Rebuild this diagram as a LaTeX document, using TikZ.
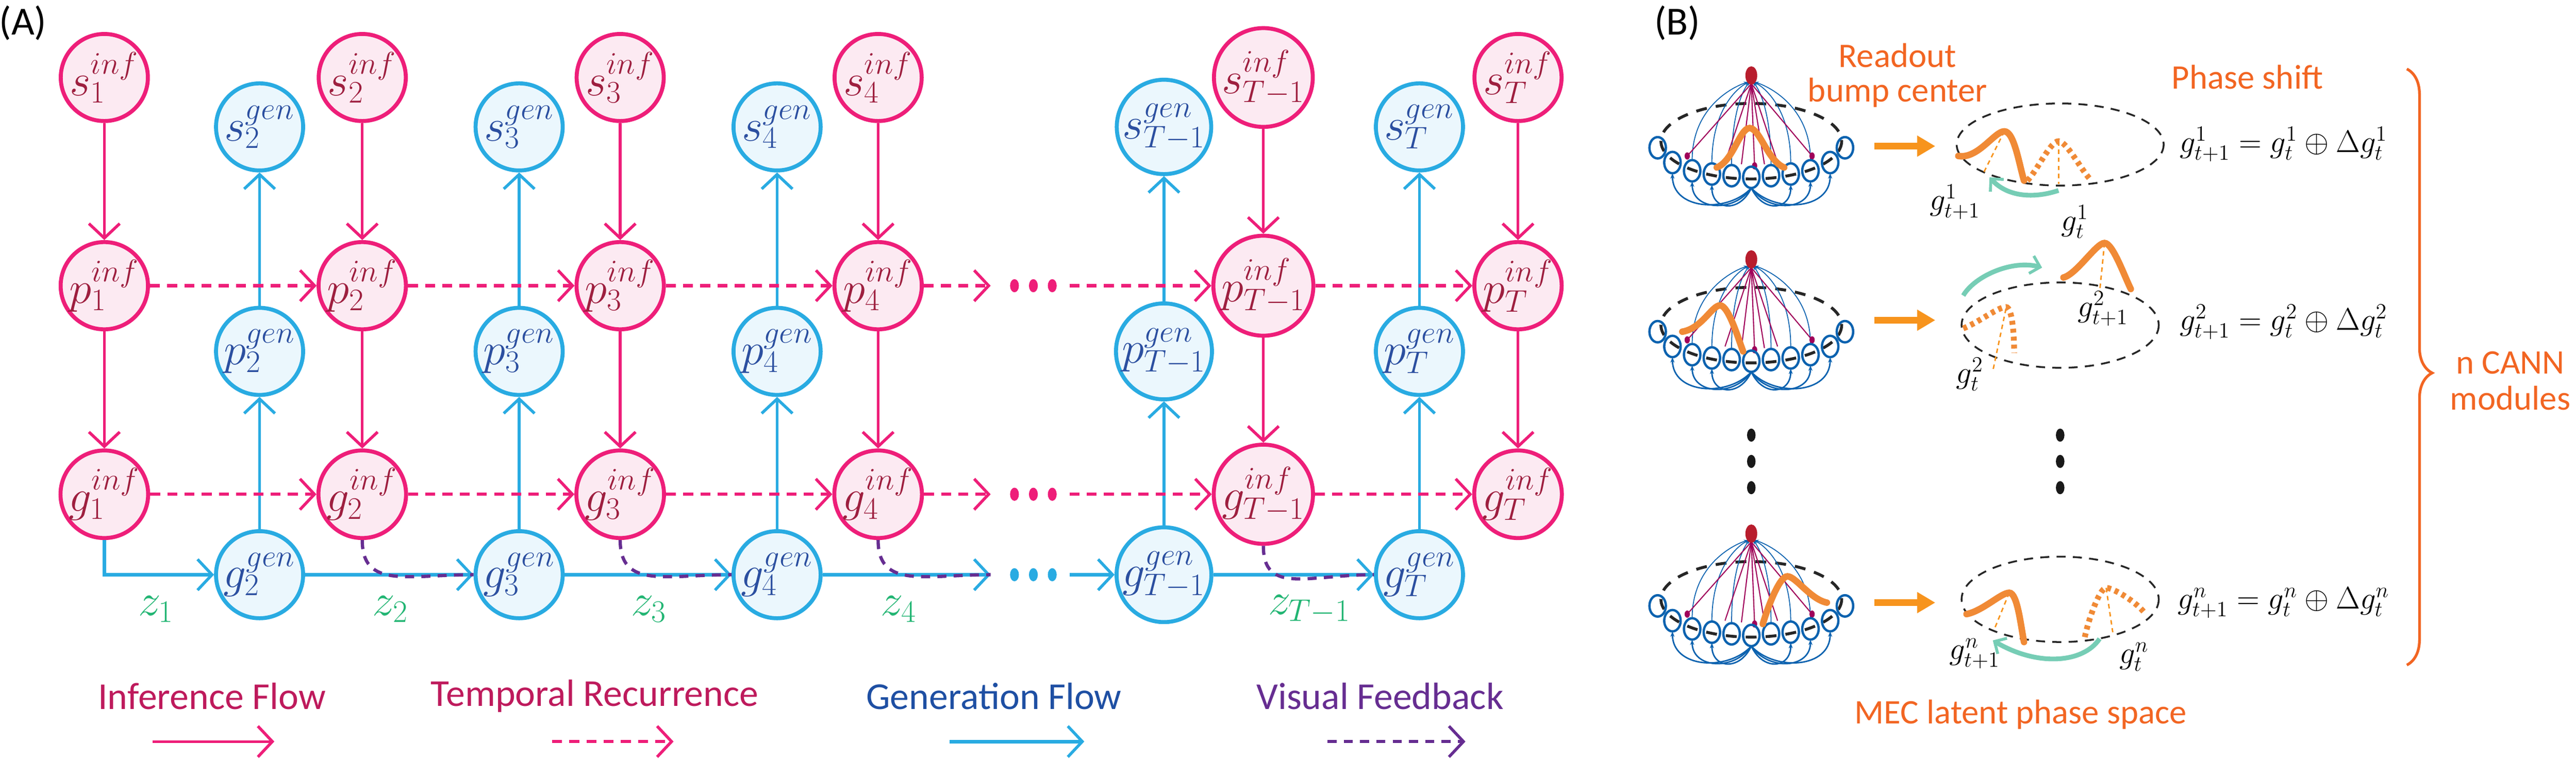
\documentclass[tikz,border=0pt]{standalone}
\usepackage{fontspec}
\setmainfont{Carlito}
\usetikzlibrary{arrows.meta,decorations.pathreplacing,calc}
\definecolor{pinkL}{HTML}{EE1E79}
\definecolor{pinkF}{HTML}{FCEAF2}
\definecolor{infT}{HTML}{9E1F3F}
\definecolor{blueL}{HTML}{29ABE2}
\definecolor{blueF}{HTML}{EBF7FD}
\definecolor{genT}{HTML}{2B4FA0}
\definecolor{zgreen}{HTML}{22B573}
\definecolor{vpurple}{HTML}{662D91}
\definecolor{legpink}{HTML}{BE1A5C}
\definecolor{legblue}{HTML}{1E4FA3}
\definecolor{orgA}{HTML}{F7941D}
\definecolor{orgB}{HTML}{F08A36}
\definecolor{orgT}{HTML}{F26522}
\definecolor{teal}{HTML}{76CDB5}
\definecolor{netB}{HTML}{0B62AF}
\definecolor{netM}{HTML}{A0005A}
\definecolor{netR}{HTML}{B81D2D}
\tikzset{
 inf/.style={circle,draw=pinkL,fill=pinkF,line width=2.2pt,minimum size=16.9mm,inner sep=0pt,text=infT,font=\fontsize{25}{30}\selectfont},
 gen/.style={circle,draw=blueL,fill=blueF,line width=2.2pt,minimum size=16.9mm,inner sep=0pt,text=genT,font=\fontsize{25}{30}\selectfont},
 tipP/.style={-{Straight Barb[length=8pt,width=17pt,line width=1.6pt]}},
 ia/.style={draw=pinkL,line width=1.5pt,tipP},
 ta/.style={draw=pinkL,line width=1.8pt,dash pattern=on 5.5pt off 4pt,tipP},
 ga/.style={draw=blueL,line width=1.5pt,tipP},
 gh/.style={draw=blueL,line width=2pt,tipP},
 vf/.style={draw=vpurple,line width=1.8pt,dash pattern=on 5pt off 4pt},
 zl/.style={text=zgreen,font=\fontsize{24}{28}\selectfont},
 leg/.style={font=\fontsize{21}{25}\selectfont},
 otxt/.style={text=orgT,font=\fontsize{19}{23}\selectfont,align=center},
 eq/.style={font=\fontsize{17}{20}\selectfont},
 lab/.style={font=\fontsize{18}{21}\selectfont,inner sep=0pt},
 ring/.style={draw=black!85,line width=1pt,dash pattern=on 5pt off 4pt},
 bump/.style={draw=orgB,line width=3.6pt,line cap=round},
 dbump/.style={draw=orgB,line width=3.2pt,dash pattern=on 2.2pt off 2.2pt},
 vl/.style={draw=orgA,line width=0.8pt,dash pattern=on 2.5pt off 2pt},
 tl/.style={draw=teal,line width=2.6pt,-{Straight Barb[length=5pt,width=10pt,line width=1.6pt]}},
 oa/.style={draw=orgA,line width=3.8pt,-{Triangle[length=10pt,width=11pt]}},
}
\newcommand{\cannnet}[2]{%
 \begin{scope}[shift={(#1,#2)}]
  \draw[draw=black!85,line width=1.6pt,dash pattern=on 6pt off 5pt] (0,0) ellipse [x radius=55,y radius=23];
  \foreach \cx/\cy in {-36/18,-24/20,-12/21,12/21,24/20,36/18}
    \draw[netB,line width=0.5pt,-{Stealth[length=2.5pt]}] (\cx,{\cy-6.5}) .. controls (\cx,-22) and ({\cx*0.25},-34) .. ({\cx*0.05},-36);
  \foreach \mx/\my in {-39/9,2/15,37/9,-16/13,16/13,-6/14,8/14}
    {\draw[netM,line width=0.6pt] (0,-35) -- (\mx,\my);}
  \foreach \mx/\my in {-39/9,2/15,37/9}
    {\fill[netM] (\mx,\my) ellipse [x radius=1.6,y radius=2.2];}
  \foreach \cx/\cy in {-57/4,-48/13,-36/18,-24/20,-12/21,0/22,12/21,24/20,36/18,48/13,57/4}
    \draw[netB,line width=1.3pt] (\cx,\cy) ellipse [x radius=5,y radius=6.5];
  \foreach \cx/\cy in {-48/13,-36/18,-24/20,24/20,36/18,48/13}
    \draw[netB,line width=0.8pt,-{Stealth[length=3pt]}] (0,28.5) .. controls ({\cx*0.3},44) and (\cx,42) .. (\cx,{\cy+6.5});
  \fill[netR] (0,-40) ellipse [x radius=3.6,y radius=5.6];
 \end{scope}}
\begin{document}
\begin{tikzpicture}[x=0.3187mm,y=-0.3187mm]
\path[use as bounding box] (0,0) rectangle (1568,462.8);
\node[font=\fontsize{22}{26}\selectfont] (A) at (14,14) {(A)};
\node[font=\fontsize{22}{26}\selectfont] (B) at (1021,14) {(B)};
% ---------- inference nodes
\foreach \n/\x/\s in {1/63.5/1,2/220.5/2,3/377.5/3,4/534.5/4,5/769/{T-1},6/924/T}{
  \node[inf] (s\n i) at (\x,47.2) {$s_{\s}^{inf}$};
  \node[inf] (p\n i) at (\x,174) {$p_{\s}^{inf}$};
  \node[inf] (g\n i) at (\x,301) {$g_{\s}^{inf}$};
  \draw[ia] (s\n i) -- (p\n i);
  \draw[ia] (p\n i) -- (g\n i);
}
% ---------- generation nodes
\foreach \n/\x/\s in {2/158/2,3/316/3,4/473/4,5/708.5/{T-1},6/864/T}{
  \node[gen] (s\n g) at (\x,77.3) {$s_{\s}^{gen}$};
  \node[gen] (p\n g) at (\x,214) {$p_{\s}^{gen}$};
  \node[gen] (g\n g) at (\x,350) {$g_{\s}^{gen}$};
  \draw[ga] (g\n g) -- (p\n g);
  \draw[ga] (p\n g) -- (s\n g);
}
% ---------- temporal recurrence
\coordinate (pd1) at (603,174); \coordinate (pd2) at (651,174);
\coordinate (gd1) at (603,301); \coordinate (gd2) at (651,301);
\coordinate (hd1) at (603,350); \coordinate (hd2) at (651,350);
\foreach \r in {p,g}{
  \draw[ta] (\r1i) -- (\r2i);
  \draw[ta] (\r2i) -- (\r3i);
  \draw[ta] (\r3i) -- (\r4i);
  \draw[ta] (\r4i) -- (\r d1);
  \draw[ta] (\r d2) -- (\r5i);
  \draw[ta] (\r5i) -- (\r6i);
}
\foreach \y in {174,301}{\foreach \x in {617.5,629,640.5}{\fill[pinkL] (\x,\y) ellipse [x radius=2.7,y radius=4];}}
\foreach \x in {617.5,629,640.5}{\fill[blueL] (\x,350) ellipse [x radius=2.7,y radius=4];}
% ---------- generation horizontal
\draw[gh] (g1i.south) |- (g2g);
\draw[gh] (g2g) -- (g3g);
\draw[gh] (g3g) -- (g4g);
\draw[gh] (g4g) -- (hd1);
\draw[gh] (hd2) -- (g5g);
\draw[gh] (g5g) -- (g6g);
% ---------- visual feedback
\draw[vf] (g2i.south) .. controls +(0,30) and +(-40,0) .. (g3g.west);
\draw[vf] (g3i.south) .. controls +(0,30) and +(-40,0) .. (g4g.west);
\draw[vf] (g4i.south) .. controls +(0,30) and +(-40,0) .. (hd1);
\draw[vf] (g5i.south) .. controls +(0,30) and +(-40,0) .. (g6g.west);
% ---------- z labels
\node[zl] (z1) at (95,371) {$z_1$};
\node[zl] (z2) at (237.6,371) {$z_2$};
\node[zl] (z3) at (395,371) {$z_3$};
\node[zl] (z4) at (547,371) {$z_4$};
\node[zl] (z5) at (797,371) {$z_{T-1}$};
% ---------- legend
\node[leg,text=legpink] (l1) at (129,424) {Inference Flow};
\node[leg,text=legpink] (l2) at (362,424) {Temporal Recurrence};
\node[leg,text=legblue] (l3) at (605,424) {Generation Flow};
\node[leg,text=vpurple] (l4) at (840,424) {Visual Feedback};
\coordinate (a1s) at (93,451.6); \coordinate (a1e) at (167,451.6);
\coordinate (a2s) at (336,451.6); \coordinate (a2e) at (410,451.6);
\coordinate (a3s) at (578,451.6); \coordinate (a3e) at (660,451.6);
\coordinate (a4s) at (808,451.6); \coordinate (a4e) at (892,451.6);
\draw[ia] (a1s) -- (a1e);
\draw[ta] (a2s) -- (a2e);
\draw[gh] (a3s) -- (a3e);
\draw[vf,-{Straight Barb[length=8pt,width=17pt,line width=1.6pt]}] (a4s) -- (a4e);
% ================= panel B
\cannnet{1066}{86}
\cannnet{1066}{198}
\cannnet{1066}{365}
% net bumps
\draw[bump] (1045,102) .. controls +(10,-4) and +(-6,0) .. (1065,78) .. controls +(6,0) and +(-10,-4) .. (1086,102);
\draw[bump] (1024,202) .. controls +(12,-2) and +(-5,0) .. (1047,186) .. controls +(5,0) and +(-3,-8) .. (1061,214);
\draw[bump] (1073,380) .. controls +(3,-10) and +(-5,0) .. (1088,351) .. controls +(5,0) and +(-10,-2) .. (1112,367);
% orange arrows
\coordinate (oa1s) at (1141,89); \coordinate (oa1e) at (1178,89);
\coordinate (oa2s) at (1141,195); \coordinate (oa2e) at (1178,195);
\coordinate (oa3s) at (1141,367); \coordinate (oa3e) at (1178,367);
\draw[oa] (oa1s) -- (oa1e);
\draw[oa] (oa2s) -- (oa2e);
\draw[oa] (oa3s) -- (oa3e);
% rings
\draw[ring] (1254,88) ellipse [x radius=63,y radius=25];
\draw[ring] (1254,198) ellipse [x radius=60,y radius=26];
\draw[ring] (1254,365) ellipse [x radius=60,y radius=26];
% ring bumps row 1
\draw[vl] (1220,80) -- (1207,106);
\draw[vl] (1253,86) -- (1253,112);
\draw[bump] (1192,95) .. controls +(12,2) and +(-6,0) .. (1220,80) .. controls +(6,0) and +(-3,-10) .. (1232,110);
\draw[dbump] (1234,110) .. controls +(6,-6) and +(-5,0) .. (1253,86) .. controls +(5,0) and +(-6,-6) .. (1273,110);
% row 2
\draw[vl] (1281,148) -- (1278,178);
\draw[vl] (1221,188) -- (1213,226);
\draw[bump] (1256,169) .. controls +(8,-2) and +(-5,0) .. (1281,148) .. controls +(5,0) and +(-4,-8) .. (1297,176);
\draw[dbump] (1195,200) .. controls +(10,-4) and +(-5,0) .. (1221,187) .. controls +(4,0) and +(0,-10) .. (1226,215);
% row 3
\draw[vl] (1223,361) -- (1214,383);
\draw[vl] (1282,358) -- (1286,385);
\draw[bump] (1197,374) .. controls +(10,-2) and +(-5,0) .. (1223,361) .. controls +(5,0) and +(-2,-10) .. (1232,391);
\draw[dbump] (1269,388) .. controls +(2,-10) and +(-4,0) .. (1282,358) .. controls +(4,0) and +(-6,-8) .. (1306,374);
% teal arrows
\coordinate (t1s) at (1253,116); \coordinate (t1e) at (1211,108);
\coordinate (t2s) at (1195,180); \coordinate (t2e) at (1243,163);
\coordinate (t3s) at (1278,389); \coordinate (t3e) at (1213,390);
\draw[tl] (t1s) .. controls (1238,121) and (1222,120) .. (t1e);
\draw[tl] (t2s) .. controls (1202,168) and (1225,158) .. (t2e);
\draw[tl] (t3s) .. controls (1268,404) and (1240,406) .. (t3e);
% labels
\node[lab] (l11) at (1190,123) {$g_{t+1}^{1}$};
\node[lab] (l12) at (1263,135) {$g_{t}^{1}$};
\node[lab] (l21) at (1280,188) {$g_{t+1}^{2}$};
\node[lab] (l22) at (1199,228) {$g_{t}^{2}$};
\node[lab] (l31) at (1202,398) {$g_{t+1}^{n}$};
\node[lab] (l32) at (1299,400) {$g_{t}^{n}$};
\node[eq] (e1) at (1390,88) {$g_{t+1}^{1}=g_t^{1}\oplus\Delta g_t^{1}$};
\node[eq] (e2) at (1390,196) {$g_{t+1}^{2}=g_t^{2}\oplus\Delta g_t^{2}$};
\node[eq] (e3) at (1390,367) {$g_{t+1}^{n}=g_t^{n}\oplus\Delta g_t^{n}$};
% vertical dots
\foreach \x in {1066,1254}{\foreach \y in {265,281,297}{\fill[black!90] (\x,\y) ellipse [x radius=2.6,y radius=4];}}
% texts
\node[otxt] (ro) at (1155,46) {Readout\\[-4pt]bump center};
\node[otxt] (ps) at (1368,47) {Phase shift};
\node[otxt] (nc) at (1528,232) {n CANN\\[-3pt]modules};
\node[otxt] (mec) at (1230,435) {MEC latent phase space};
\coordinate (bt) at (1465,42); \coordinate (bb) at (1465,405);
\draw[orgT,line width=1.5pt,decorate,decoration={brace,amplitude=14pt,aspect=0.51}] (bt) -- (bb);
\end{tikzpicture}
\end{document}
